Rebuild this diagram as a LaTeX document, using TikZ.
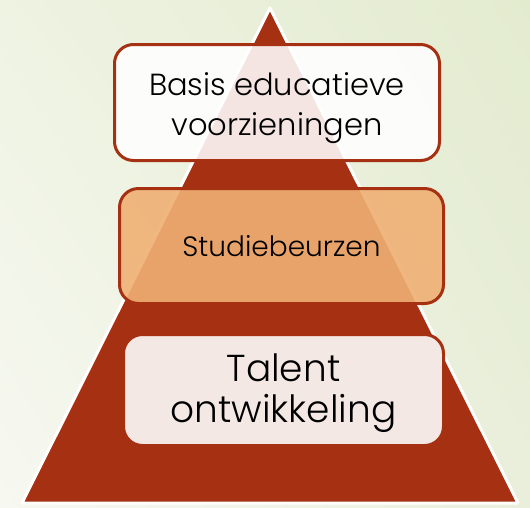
\documentclass[tikz,border=0pt]{standalone}
\usepackage{fontspec}
\setmainfont{Poppins}[UprightFont=* Light]
\usetikzlibrary{shadings}
\definecolor{bgTL}{HTML}{EEF3E2}
\definecolor{bgTR}{HTML}{E3EBCF}
\definecolor{bgBL}{HTML}{F7F8F1}
\definecolor{bgBR}{HTML}{E9EFDB}
\definecolor{pyrred}{HTML}{A53012}
\definecolor{boxorange}{HTML}{EFB074}
\definecolor{boxpink}{HTML}{F4E8E4}
\tikzset{
  tier/.style={draw=pyrred, line width=3pt, rounded corners=19pt, inner sep=0pt},
  tierA/.style={tier, fill=white, fill opacity=0.88,
    minimum width=325pt, minimum height=116pt},
  tierB/.style={tier, fill=boxorange, fill opacity=0.9,
    minimum width=324pt, minimum height=115pt},
  tierC/.style={tier, fill=boxpink,
    minimum width=320pt, minimum height=111pt},
  tiertext/.style={align=center, inner sep=0pt, text=black},
}
\begin{document}
\begin{tikzpicture}[x=1pt,y=-1pt]
\useasboundingbox (0,0) rectangle (530,507);
\shade[upper left=bgTL, upper right=bgTR, lower left=bgBL, lower right=bgBR]
  (0,0) rectangle (530,507);
\coordinate (apex) at (270,8);
\coordinate (bl) at (22,503);
\coordinate (br) at (518,503);
\filldraw[fill=pyrred, draw=white, line width=3pt, line join=round]
  (apex) -- (bl) -- (br) -- cycle;
\node[tierA] (basis) at (277,102.5) {};
\node[tierB] (studie) at (281.5,246) {};
\node[tierC] (talent) at (283.5,390) {};
\node[tiertext, font=\fontsize{30.5}{40}\selectfont, yshift=-6pt] (basisT) at (basis)
  {Basis educatieve\\voorzieningen};
\node[tiertext, font=\fontsize{28}{36}\selectfont] (studieT) at (studie)
  {Studiebeurzen};
\node[tiertext, font=\fontsize{37.5}{41}\selectfont, yshift=-3pt] (talentT) at (talent)
  {Talent\\ontwikkeling};
\end{tikzpicture}
\end{document}
